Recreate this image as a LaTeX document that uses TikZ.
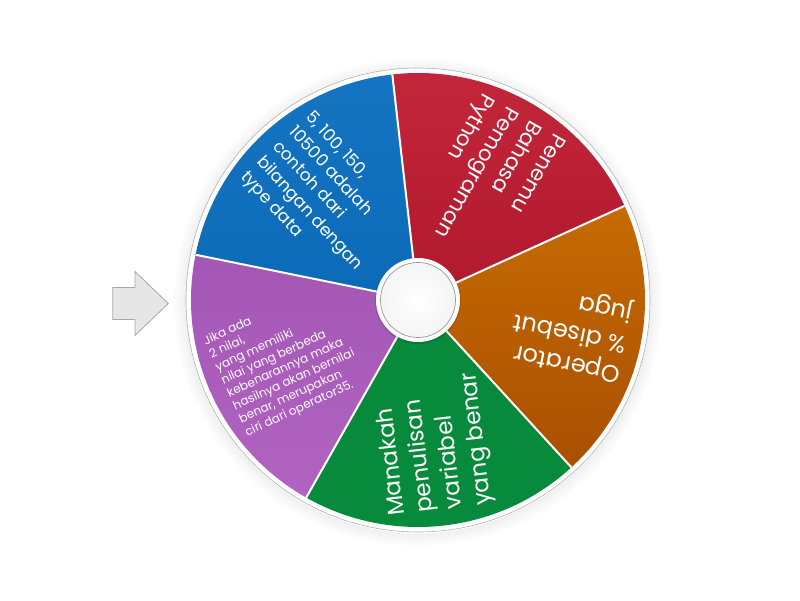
\documentclass[tikz,border=0pt]{standalone}
\usepackage{fontspec}
\setmainfont{Poppins}
\definecolor{cblue}{HTML}{0B6FBF}
\definecolor{cred}{HTML}{C01B31}
\definecolor{corange}{HTML}{C05A02}
\definecolor{cgreen}{HTML}{078A3B}
\definecolor{cpurple}{HTML}{AD5BBE}
\definecolor{arrfill}{HTML}{E6E6E6}
\definecolor{arrdraw}{HTML}{A8A8A8}
\begin{document}
\begin{tikzpicture}[x=1pt,y=1pt,
  sep/.style={white, line width=2pt},
  lbl/.style={text=white, anchor=west, align=left, inner sep=0pt},
]
\useasboundingbox (-418,-300) rectangle (382,300);
% soft shadow
\foreach \i [evaluate=\i as \op using {0.05*(1-\i/14)}] in {1,...,13}
  \draw[black, opacity=\op, line width=1.2pt] (0,-2) circle ({231+\i});
% rim
\fill[white] (0,0) circle (232);
\draw[black!30, line width=0.6pt] (0,0) circle (232);
% sectors
\shade[top color=cblue!96!white, bottom color=cblue!96!black] (0,0) -- (96.5:227) arc[start angle=96.5, end angle=168.5, radius=227] -- cycle;
\shade[top color=cpurple!95!black, bottom color=cpurple!95!white] (0,0) -- (168.5:227) arc[start angle=168.5, end angle=240.5, radius=227] -- cycle;
\fill[cgreen] (0,0) -- (240.5:227) arc[start angle=240.5, end angle=312.5, radius=227] -- cycle;
\shade[top color=corange!90!yellow, bottom color=corange!88!black] (0,0) -- (312.5:227) arc[start angle=312.5, end angle=384.5, radius=227] -- cycle;
\shade[top color=cred!95!white, bottom color=cred!92!black] (0,0) -- (24.5:227) arc[start angle=24.5, end angle=96.5, radius=227] -- cycle;
% separators
\foreach \a in {24.5,96.5,168.5,240.5,312.5}
  \draw[sep] (\a:40) -- (\a:227);
% hub
\fill[black, opacity=0.12] (0,-1) circle (43);
\fill[white] (0,0) circle (42);
\shade[inner color=white, outer color=black!4] (0,0) circle (37.5);
\draw[black!40, line width=0.7pt] (0,0) circle (37.5);
% labels
\node[lbl, rotate=312.5, font=\fontsize{17}{22}\selectfont] (tblue) at (132.5:211)
  {5, 100, 150,\\10500 adalah\\contoh dari\\bilangan dengan\\type data};
\node[lbl, rotate=240.5, font=\fontsize{21}{27}\selectfont] (tred) at (60.5:213)
  {Penemu\\Bahasa\\Pemograman\\Python};
\node[lbl, rotate=168.5, font=\fontsize{24}{31}\selectfont] (torange) at (348.5:213)
  {Operator\\\% disebut\\juga};
\node[lbl, rotate=96.5, font=\fontsize{23}{29}\selectfont] (tgreen) at (276.5:212)
  {Manakah\\penulisan\\variabel\\yang benar};
\node[lbl, rotate=24.5, font=\fontsize{12}{14.3}\selectfont] (tpurple) at (204.5:212)
  {Jika ada\\2 nilai,\\yang memiliki\\nilai yang berbeda\\kebenarannya maka\\hasilnya akan bernilai\\benar, merupakan\\ciri dari operator35.};
% pointer arrow
\draw[fill=arrfill, draw=arrdraw, line width=0.8pt]
  (-305.3,12.5) -- (-283,12.5) -- (-283,28.5) -- (-249.7,-3.5)
  -- (-283,-35.5) -- (-283,-19.5) -- (-305.3,-19.5) -- cycle;
\end{tikzpicture}
\end{document}
